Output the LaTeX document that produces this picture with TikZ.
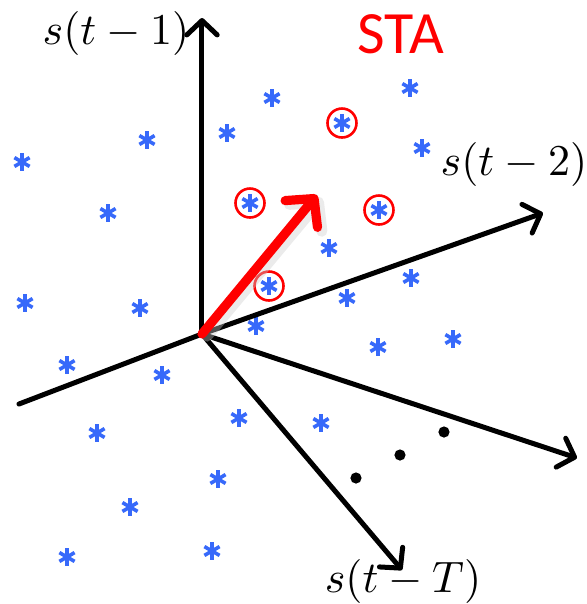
\documentclass[tikz,border=0pt]{standalone}
\usepackage{fontspec}
\newfontfamily\stafont{Carlito}
\usetikzlibrary{arrows.meta,calc}
\definecolor{starblue}{RGB}{55,105,250}
\tikzset{
  axis/.style={line width=1.25pt, line cap=round, -{Straight Barb[length=3.6pt,width=7.6pt,round]}},
  axisplain/.style={line width=1.25pt, line cap=round},
  starline/.style={starblue, line width=0.9pt},
  bluestar/.pic={\draw[starline] (0,-8.8)--(0,8.8) (-7.6,-4.4)--(7.6,4.4) (-7.6,4.4)--(7.6,-4.4);},
  ring/.style={red, line width=0.65pt},
  axlabel/.style={scale=1.1, anchor=base, inner sep=0pt},
  dotmark/.style={circle, fill=black, inner sep=0pt, minimum size=2.8pt},
}
\begin{document}
\begin{tikzpicture}[x=0.25pt, y=-0.25pt]
\useasboundingbox (0,0) rectangle (587,604);
% coordinates
\coordinate (O) at (202,334);
\coordinate (up) at (202,18);
\coordinate (left) at (19,404);
\coordinate (r2) at (543,213);
\coordinate (rT) at (577,458);
\coordinate (dn) at (402,570);
\coordinate (sta) at (317,195);
% stars
\foreach \p in {(272,98),(227,133),(147,140),(22,162),(108,213),(250,203),(269,286),
  (410,88),(342,123),(422,148),(379,210),(329,248),(411,278),(347,298),
  (25,303),(140,308),(256,326),(67,365),(162,375),(97,433),(239,418),(218,479),
  (130,507),(67,557),(212,551),(378,347),(453,339),(321,423)}
  \pic at \p {bluestar};
% rings
\foreach \p in {(250,203),(269,286),(342,123),(379,210)}
  \draw[ring] \p circle[radius=14.5];
% axes
\draw[axis] (O) -- (up);
\draw[axisplain] (left) -- (O);
\draw[axis] (O) -- (r2);
\draw[axis] (O) -- (rT);
\draw[axis] (O) -- (dn);
% STA vector with soft shadow
\draw[black!20, opacity=0.4, line width=2.8pt, line cap=round,
  -{Straight Barb[length=5pt,width=10.5pt,round]}] ($(O)+(5,2)$) -- ($(sta)+(5,3)$);
\draw[red, line width=2.3pt, line cap=round,
  -{Straight Barb[length=5pt,width=10.5pt,round]}] (O) -- (sta);
% dots
\node[dotmark] (d1) at (356,478) {};
\node[dotmark] (d2) at (400,455) {};
\node[dotmark] (d3) at (444,432) {};
% labels
\node[axlabel] (l1) at (116,44) {$s(t-1)$};
\node[axlabel] (l2) at (514,175) {$s(t-2)$};
\node[axlabel] (lT) at (403,592) {$s(t-T)$};
\node[red, inner sep=0pt, font=\stafont\fontsize{15}{18}\selectfont] (st) at (401,34) {STA};
\end{tikzpicture}
\end{document}
